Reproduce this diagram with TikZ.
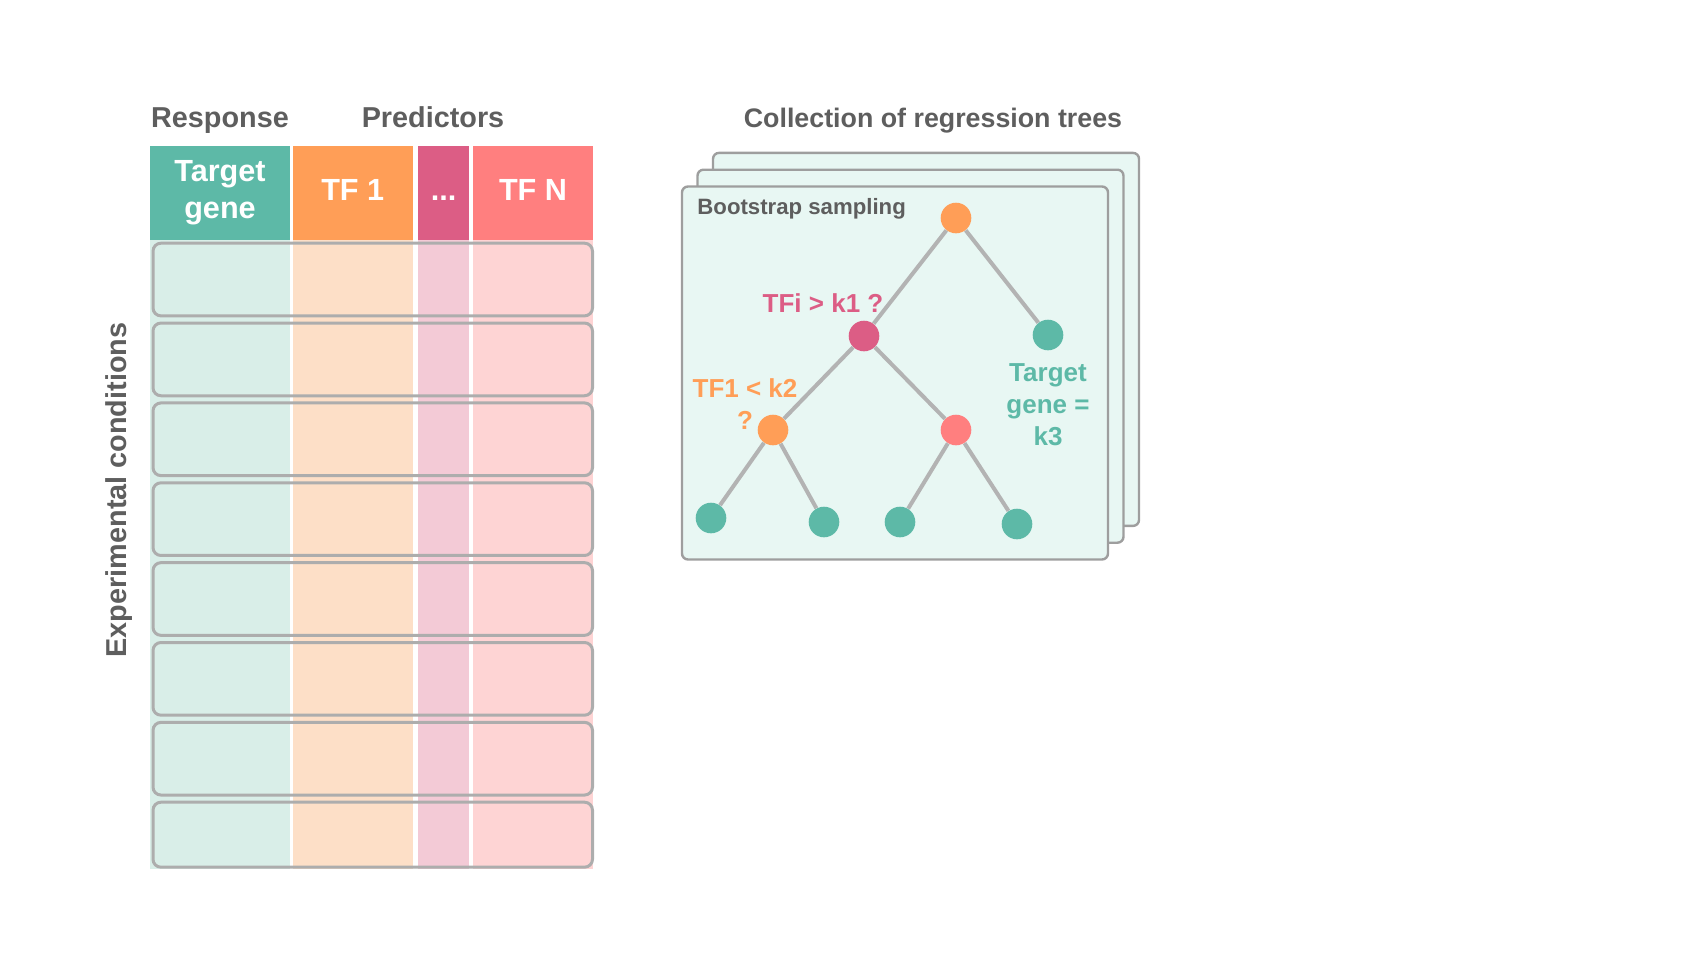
\documentclass[tikz,border=0pt]{standalone}
\usepackage{fontspec}
\setmainfont{Liberation Sans}
\usetikzlibrary{positioning}
\definecolor{tgene}{HTML}{5DB9A7}
\definecolor{tfone}{HTML}{FF9E57}
\definecolor{tfdots}{HTML}{DC5D85}
\definecolor{tfn}{HTML}{FF7F7F}
\definecolor{tgeneL}{HTML}{D9EEE8}
\definecolor{tfoneL}{HTML}{FDDFC7}
\definecolor{tfdotsL}{HTML}{F3CAD6}
\definecolor{tfnL}{HTML}{FED4D4}
\definecolor{txtgray}{HTML}{5E5E5E}
\definecolor{rowgray}{HTML}{ADADAD}
\definecolor{cardgray}{HTML}{9E9E9E}
\definecolor{cardfill}{HTML}{E8F7F3}
\definecolor{branchgray}{HTML}{B3B3B3}
\tikzset{
  headcell/.style = { rectangle, inner sep=0pt, outer sep=0pt, minimum height=47pt,
                      text=white, align=center, font=\bfseries\fontsize{15.3}{18.5}\selectfont },
  oneline/.style  = { headcell, text height=11pt, text depth=4pt },
  colbody/.style  = { rectangle, inner sep=0pt, outer sep=0pt, minimum height=314.35pt },
  heading/.style  = { anchor=base, text=txtgray, font=\bfseries\fontsize{14.4}{17}\selectfont },
  rowbox/.style   = { draw=rowgray, line width=1.5pt, rounded corners=4pt },
  card/.style     = { rectangle, draw=cardgray, fill=cardfill, line width=1.2pt, rounded corners=3pt,
                      minimum width=213pt, minimum height=186.5pt },
}
\tikzset{
  treenode/.style = { circle, inner sep=0pt, minimum size=15.3pt },
  leaf/.style     = { treenode, fill=tgene },
  branch/.style   = { draw=branchgray, line width=2pt },
  query/.style    = { align=center, font=\bfseries\fontsize{13}{16}\selectfont },
}

\begin{document}
\begin{tikzpicture}[x=0.5pt,y=-0.5pt]
  \useasboundingbox (0,0) rectangle (1698,980);

  % data table
  \node (resp) [heading] at (220,127) {Response};
  \node (pred) [heading] at (433,127) {Predictors};
  \node (cond) [heading,rotate=90,anchor=center] at (119,490) {Experimental conditions};

  \node (tg)   [headcell,fill=tgene,minimum width=70pt]   at (220,193)   {Target\\gene};
  \node (tf1)  [oneline,fill=tfone,minimum width=60pt]    at (352.7,193) {TF 1};
  \node (dots) [oneline,fill=tfdots,minimum width=25.7pt] at (443.7,193) {...};
  \node (tfN)  [oneline,fill=tfn,minimum width=59.7pt]    at (533,193)   {TF N};

  \node (tgcol)   [colbody,fill=tgeneL,minimum width=70pt,below=0pt of tg]      {};
  \node (tf1col)  [colbody,fill=tfoneL,minimum width=60pt,below=0pt of tf1]     {};
  \node (dotscol) [colbody,fill=tfdotsL,minimum width=25.7pt,below=0pt of dots] {};
  \node (tfNcol)  [colbody,fill=tfnL,minimum width=59.7pt,below=0pt of tfN]     {};

  \foreach \i in {0,...,6}
    \draw [rowbox] (153,{243.2+79.86*\i}) rectangle ++(439.5,72.7);
  \draw [rowbox] (153,802.2) rectangle (592.5,867.2);

  % trees
  \node (coll) [heading,font=\bfseries\fontsize{13.4}{16}\selectfont] at (933,127) {Collection of regression trees};

  \foreach \k in {2,1,0}
    \node (card\k) [card] at ({895+15.5*\k},{373-16.8*\k}) {};

  \node (boot) [anchor=base west,inner sep=0pt,text=txtgray,font=\bfseries\fontsize{11.1}{13}\selectfont] at (697,214) {Bootstrap sampling};

  \node (root)  [treenode,fill=tfone]  at (956,218)  {};
  \node (tfi)   [treenode,fill=tfdots] at (864,336)  {};
  \node (rleaf) [leaf]                 at (1048,335) {};
  \node (tfa)   [treenode,fill=tfone]  at (773,430)  {};
  \node (tfb)   [treenode,fill=tfn]    at (956,430)  {};
  \node (la)    [leaf]                 at (711,518)  {};
  \node (lb)    [leaf]                 at (824,522)  {};
  \node (lc)    [leaf]                 at (900,522)  {};
  \node (ld)    [leaf]                 at (1017,524) {};

  \draw [branch] (root) -- (tfi);
  \draw [branch] (root) -- (rleaf);
  \draw [branch] (tfi)  -- (tfa);
  \draw [branch] (tfi)  -- (tfb);
  \draw [branch] (tfa)  -- (la);
  \draw [branch] (tfa)  -- (lb);
  \draw [branch] (tfb)  -- (lc);
  \draw [branch] (tfb)  -- (ld);

  \node (q1) [query,text=tfdots,anchor=base] at (823,312) {TFi > k1 ?};
  \node (q2) [query,text=tfone]              at (745,404) {TF1 < k2\\?};
  \node (q3) [query,text=tgene]              at (1048,405) {Target\\gene =\\k3};

\end{tikzpicture}
\end{document}
